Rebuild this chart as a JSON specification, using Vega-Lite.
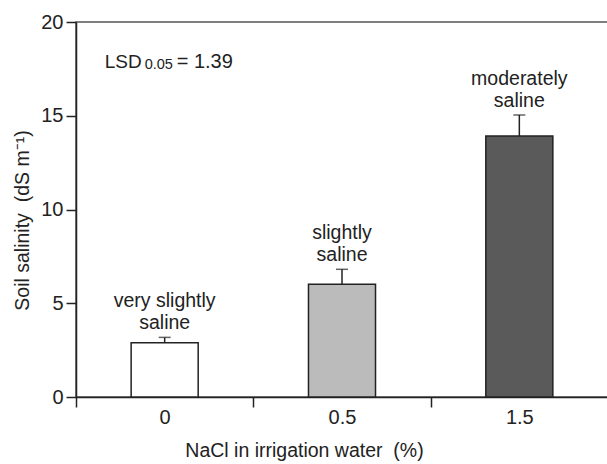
{
  "$schema": "https://vega.github.io/schema/vega-lite/v6.json",
  "width": 532,
  "height": 375,
  "autosize": {"type": "none"},
  "padding": {"left": 76, "top": 22, "right": 0, "bottom": 67},
  "background": "white",
  "config": {
    "font": "Liberation Sans",
    "view": {"stroke": "#555", "strokeWidth": 1.5},
    "axis": {
      "domainColor": "#222", "tickColor": "#222", "labelColor": "#222", "titleColor": "#222",
      "labelFont": "Liberation Sans", "titleFont": "Liberation Sans",
      "labelFontSize": 20, "titleFontSize": 19.5, "titleFontWeight": "normal",
      "grid": false, "tickSize": 10, "domainWidth": 1.5, "tickWidth": 1.5
    }
  },
  "datasets": {
    "bars": [
      {"nacl": "0", "salinity": 2.9, "upper": 3.18, "label": "very slightly\nsaline"},
      {"nacl": "0.5", "salinity": 6.01, "upper": 6.81, "label": "slightly\nsaline"},
      {"nacl": "1.5", "salinity": 13.92, "upper": 15.04, "label": "moderately\nsaline"}
    ]
  },
  "layer": [
    {
      "data": {"name": "bars"},
      "mark": {"type": "bar", "stroke": "#222", "strokeWidth": 1.5, "width": {"band": 0.378}},
      "encoding": {
        "x": {
          "field": "nacl", "type": "nominal", "sort": ["0", "0.5", "1.5"],
          "scale": {"paddingInner": 0, "paddingOuter": 0},
          "axis": {"title": "NaCl in irrigation water\u00a0 (%)", "labelAngle": 0, "tickBand": "extent", "labelPadding": 0, "titlePadding": 14, "titleX": 228, "titleAlign": "center", "titleAnchor": null}
        },
        "y": {
          "field": "salinity", "type": "quantitative",
          "scale": {"domain": [0, 20]},
          "axis": {"title": "Soil salinity\u00a0 (dS m⁻¹)", "values": [0, 5, 10, 15, 20], "labelPadding": 3, "titlePadding": 8, "titleY": 198, "titleAlign": "center"}
        },
        "fill": {
          "field": "nacl", "type": "nominal",
          "scale": {"domain": ["0", "0.5", "1.5"], "range": ["#ffffff", "#bbbbbb", "#5a5a5a"]},
          "legend": null
        }
      }
    },
    {
      "data": {"name": "bars"},
      "mark": {"type": "rule", "color": "#222", "strokeWidth": 1.5},
      "encoding": {
        "x": {"field": "nacl", "type": "nominal", "sort": ["0", "0.5", "1.5"]},
        "y": {"field": "salinity", "type": "quantitative"},
        "y2": {"field": "upper"}
      }
    },
    {
      "data": {"name": "bars"},
      "mark": {"type": "tick", "color": "#222", "thickness": 1.5, "size": 12},
      "encoding": {
        "x": {"field": "nacl", "type": "nominal", "sort": ["0", "0.5", "1.5"]},
        "y": {"field": "upper", "type": "quantitative"}
      }
    },
    {
      "data": {"name": "bars"},
      "mark": {"type": "text", "baseline": "bottom", "dy": -26, "fontSize": 19.5, "lineHeight": 22, "lineBreak": "\n", "color": "#222"},
      "encoding": {
        "x": {"field": "nacl", "type": "nominal", "sort": ["0", "0.5", "1.5"]},
        "y": {"field": "upper", "type": "quantitative"},
        "text": {"field": "label"}
      }
    },
    {
      "data": {"values": [{"t": "LSD"}]},
      "mark": {"type": "text", "align": "left", "baseline": "middle", "dx": -60, "fontSize": 19, "color": "#222"},
      "encoding": {"x": {"datum": "0"}, "y": {"datum": 17.87}, "text": {"field": "t"}}
    },
    {
      "data": {"values": [{"t": "0.05"}]},
      "mark": {"type": "text", "align": "left", "baseline": "middle", "dx": -20, "dy": 3, "fontSize": 14.5, "color": "#222"},
      "encoding": {"x": {"datum": "0"}, "y": {"datum": 17.87}, "text": {"field": "t"}}
    },
    {
      "data": {"values": [{"t": "= 1.39"}]},
      "mark": {"type": "text", "align": "left", "baseline": "middle", "dx": 12, "fontSize": 20, "color": "#222"},
      "encoding": {"x": {"datum": "0"}, "y": {"datum": 17.87}, "text": {"field": "t"}}
    }
  ]
}
